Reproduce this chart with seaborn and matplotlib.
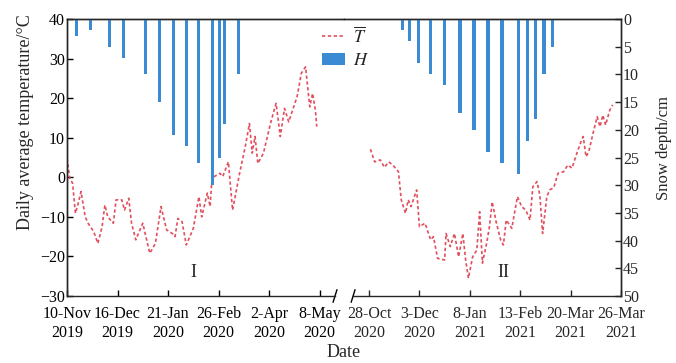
import numpy as np
import pandas as pd
import matplotlib
matplotlib.use("Agg")
import matplotlib.pyplot as plt
import seaborn as sns

# ---------------- data ----------------
# Period I (day 0 = 10-Nov-2019)
t1_day = [0, 2, 4, 6, 8, 10, 13, 15, 19, 22, 25, 27, 29, 33, 35, 39, 41, 44, 46, 49,
          54, 59, 63, 67, 71, 75, 77, 79, 82, 85, 90, 94, 96, 100, 102, 103, 105, 109,
          111, 115, 118, 123, 127, 130, 132, 134, 136, 140, 145, 149, 152, 155, 158,
          164, 167, 170, 173, 175, 177, 178]
t1_val = [4.8, -0.3, -1.5, -9.1, -6.6, -3.6, -10.0, -11.6, -13.7, -16.7, -12.5, -7.0,
          -10.0, -11.6, -5.7, -5.7, -8.3, -5.3, -11.6, -15.8, -11.6, -19.2, -16.7, -7.4,
          -13.3, -14.2, -15.0, -10.4, -11.2, -17.1, -12.9, -4.9, -10.0, -4.0, -7.4, -1.9,
          0.2, 1.0, 0.2, 3.9, -8.3, 1.0, 7.7, 13.6, 6.1, 10.3, 3.5, 6.1, 13.6, 18.7, 10.3,
          17.4, 14.0, 20.4, 26.3, 27.9, 17.8, 21.2, 17.0, 12.8]
h1_day = [7, 17, 30, 40, 56, 66, 76, 85, 94, 104, 109, 112, 122]
h1_val = [3, 2, 5, 7, 10, 15, 21, 23, 26, 30, 25, 19, 10]

# Period II (day 0 = 28-Oct-2020)
t2_day = [1, 4, 8, 11, 14, 17, 21, 23, 26, 28, 30, 34, 36, 40, 44, 46, 49, 54, 55, 58,
          61, 64, 67, 69, 71, 74, 77, 79, 81, 84, 86, 88, 91, 94, 96, 98, 102, 106, 109,
          112, 115, 117, 120, 122, 124, 127, 129, 132, 135, 139, 142, 145, 148, 151, 153,
          155, 157, 160, 163, 165, 167, 169, 172, 174]
t2_val = [7.1, 3.9, 4.4, 2.5, 3.9, 3.1, 1.4, -5.7, -9.1, -5.7, -7.4, -3.2, -12.5, -11.6,
          -15.8, -15.0, -20.5, -20.9, -14.2, -17.5, -14.2, -20.1, -14.2, -20.9, -25.5,
          -20.1, -18.4, -8.7, -21.7, -16.7, -12.5, -6.2, -11.6, -15.8, -17.1, -10.8, -12.9,
          -4.9, -7.4, -8.3, -10.8, -2.4, -1.1, -4.5, -14.2, -4.9, -3.2, -2.6, 1.0, 1.4, 3.1,
          2.3, 5.6, 8.6, 10.3, 5.2, 6.5, 11.1, 15.3, 12.8, 15.7, 13.2, 17.0, 18.3]
h2_day = [24, 29, 35, 44, 54, 65, 75, 85, 95, 107, 113, 119, 125, 131]
h2_val = [2, 4, 8, 10, 12, 17, 20, 24, 26, 28, 22, 18, 10, 5]

tick1_pos = [0, 36, 72, 108, 144, 180]
tick1_lab = ["10-Nov\n2019", "16-Dec\n2019", "21-Jan\n2020", "26-Feb\n2020",
             "2-Apr\n2020", "8-May\n2020"]
tick2_pos = [0, 36, 72, 108, 144, 180]
tick2_lab = ["28-Oct\n2020", "3-Dec\n2020", "8-Jan\n2021", "13-Feb\n2021",
             "20-Mar\n2021", "26-Mar\n2021"]
temp_ticks = [-30, -20, -10, 0, 10, 20, 30, 40]
snow_ticks = [0, 5, 10, 15, 20, 25, 30, 35, 40, 45, 50]

# ---------------- style ----------------
sns.set_theme(style="ticks")
plt.rcParams["font.family"] = ["Liberation Serif", "DejaVu Serif"]
plt.rcParams["mathtext.fontset"] = "stix"
plt.rcParams["axes.linewidth"] = 1.0

LINE_C = "#e0505e"
BAR_C = "#3a8ad4"
FS_TICK = 11.5

fig = plt.figure(figsize=(6.76, 3.63), dpi=100)
L, R, B, T = 67 / 676, 621 / 676, 1 - 296 / 363, 1 - 19 / 363
SPLIT = 344 / 676
ax1 = fig.add_axes([L, B, SPLIT - L, T - B])
ax2 = fig.add_axes([SPLIT, B, R - SPLIT, T - B], sharey=ax1)
ax1b = ax1.twinx()
ax2b = ax2.twinx()

X1 = (0, 197.4)
X2 = (-17.9, 180)

df1 = pd.DataFrame({"day": t1_day, "T": t1_val})
df2 = pd.DataFrame({"day": t2_day, "T": t2_val})
sns.lineplot(data=df1, x="day", y="T", ax=ax1, color=LINE_C, lw=1.2,
             linestyle=(0, (2, 1.5)), label=r"$\overline{T}$", legend=False)
sns.lineplot(data=df2, x="day", y="T", ax=ax2, color=LINE_C, lw=1.2,
             linestyle=(0, (2, 1.5)), legend=False)

bar_w = 2.2
hd1 = pd.DataFrame({"day": h1_day, "H": h1_val})
hd2 = pd.DataFrame({"day": h2_day, "H": h2_val})
w1 = bar_w / np.min(np.diff(h1_day))
w2 = bar_w / np.min(np.diff(h2_day))
sns.barplot(data=hd1, x="day", y="H", ax=ax1b, native_scale=True, width=w1,
            color=BAR_C, saturation=1, label=r"$H$", linewidth=0)
sns.barplot(data=hd2, x="day", y="H", ax=ax2b, native_scale=True, width=w2,
            color=BAR_C, saturation=1, linewidth=0)
for a in (ax1, ax2, ax1b, ax2b):
    if a.get_legend() is not None:
        a.get_legend().remove()

for a in (ax1, ax1b):
    a.set_xlim(*X1)
for a in (ax2, ax2b):
    a.set_xlim(*X2)
ax1.set_ylim(-30, 40)
for a in (ax1b, ax2b):
    a.set_ylim(50, 0)

# spines
for a in (ax1, ax1b):
    a.spines["right"].set_visible(False)
for a in (ax2, ax2b):
    a.spines["left"].set_visible(False)
for a in (ax1b, ax2b):
    a.spines["bottom"].set_visible(False)
ax1.spines["bottom"].set_bounds(0, 191)
ax2.spines["bottom"].set_bounds(-11.4, 180)

# ticks
ax1.set_xticks(tick1_pos)
ax1.set_xticklabels(tick1_lab, fontsize=FS_TICK, linespacing=1.25)
ax2.set_xticks(tick2_pos)
ax2.set_xticklabels(tick2_lab, fontsize=FS_TICK, linespacing=1.25)
ax1.set_yticks(temp_ticks)
ax1.set_yticklabels([str(v).replace("-", "\u2212") for v in temp_ticks], fontsize=FS_TICK)
ax1.tick_params(axis="y", direction="in", length=4, width=1, pad=1.5, colors="black")
ax1.tick_params(axis="x", direction="in", length=4, width=1, pad=7, colors="black")
ax2.tick_params(axis="x", direction="in", length=4, width=1, pad=7)
ax2.tick_params(axis="y", left=False, labelleft=False)
ax1b.tick_params(axis="y", right=False, labelright=False)
ax2b.set_yticks(snow_ticks)
ax2b.set_yticklabels([str(v) for v in snow_ticks], fontsize=FS_TICK)
ax2b.tick_params(axis="y", direction="in", length=4, width=1, pad=1.5)
for a in (ax1, ax2, ax1b, ax2b):
    a.set_xlabel("")
    a.set_ylabel("")

ax1.set_ylabel("Daily average temperature/\u00b0C", fontsize=13)
ax1.yaxis.set_label_coords(-0.12, 0.628)
ax2b.set_ylabel("Snow depth/cm", fontsize=12, rotation=90)
ax2b.yaxis.set_label_coords(1.125, 0.534)
fig.text(SPLIT, 0.028, "Date", ha="center", va="center", fontsize=13)

# break marks on bottom axis
d = 4
for a, xb in ((ax1, 191), (ax2, -11.4)):
    a.plot([xb - d * 0.35, xb + d * 0.35], [-31.6, -28.4], color="black", lw=1,
           clip_on=False)

# period labels
ax1.text(90, -24, "I", fontsize=13, ha="center", va="center")
ax2.text(95.7, -24, "II", fontsize=13, ha="center", va="center")

# legend
h_l, l_l = ax1.get_legend_handles_labels()
h_b, l_b = ax1b.get_legend_handles_labels()
leg = fig.legend(h_l + h_b, l_l + l_b, loc="upper left",
                 bbox_to_anchor=(322 / 676, 1 - 27 / 363), frameon=False,
                 fontsize=13, handlelength=1.25, handletextpad=0.45, labelspacing=0.3,
                 borderaxespad=0, borderpad=0)

fig.savefig("out.png", dpi=100)
